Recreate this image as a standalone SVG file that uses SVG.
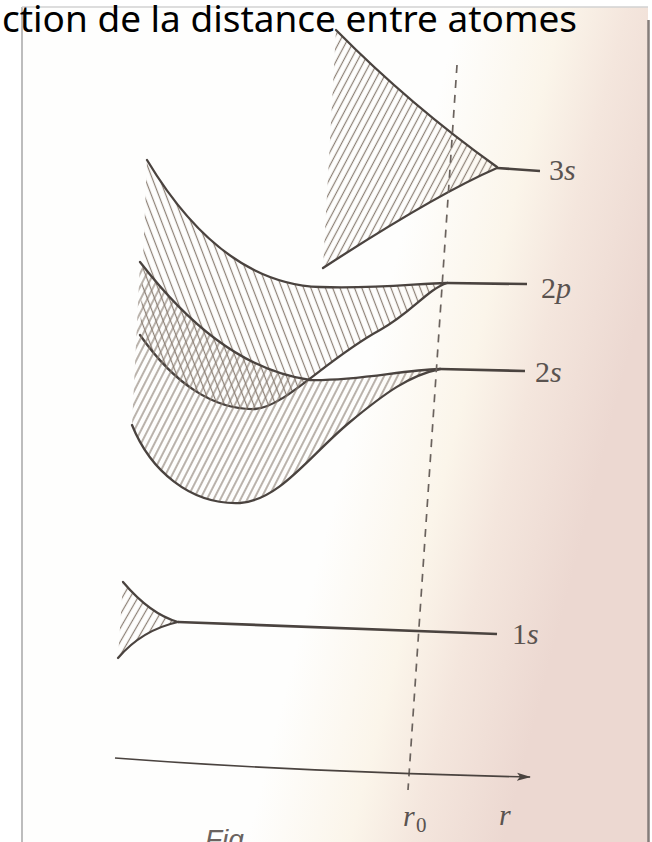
<svg xmlns="http://www.w3.org/2000/svg" width="652" height="842" viewBox="0 0 652 842">
<defs>
<style>
.edge{fill:none;stroke:#4a433f;stroke-width:2.3;stroke-linecap:round;stroke-linejoin:round}
.lvl{fill:none;stroke:#4a433f;stroke-width:2.7}
.h{stroke:#8c8075;stroke-width:1.2}
.lab{font-family:"Liberation Serif","DejaVu Serif",serif;font-size:30px;fill:#5a5350}
.it{font-style:italic}
.dash{fill:none;stroke:#6a625d;stroke-width:1.7;stroke-dasharray:8 7}
</style>
<linearGradient id="paper" gradientUnits="userSpaceOnUse" x1="353" y1="425" x2="595" y2="487">
<stop offset="0" stop-color="#fefefd"/>
<stop offset="0.4" stop-color="#fbf5ea"/>
<stop offset="0.65" stop-color="#f4e6dd"/>
<stop offset="1" stop-color="#ecd8d1"/>
</linearGradient>
<pattern id="hatchBack" patternUnits="userSpaceOnUse" width="6.8" height="20" patternTransform="rotate(-21)">
<line class="h" x1="3.4" y1="-2" x2="3.4" y2="22"/>
</pattern>
<pattern id="hatch2s" patternUnits="userSpaceOnUse" width="6" height="20" patternTransform="rotate(27)">
<line class="h" x1="3" y1="-2" x2="3" y2="22"/>
</pattern>
<pattern id="hatch3s" patternUnits="userSpaceOnUse" width="6.2" height="20" patternTransform="rotate(28)">
<line class="h" x1="3.1" y1="-2" x2="3.1" y2="22"/>
</pattern>
<pattern id="hatch1s" patternUnits="userSpaceOnUse" width="6.8" height="20" patternTransform="rotate(30)">
<line class="h" x1="3.4" y1="-2" x2="3.4" y2="22"/>
</pattern>
<marker id="arr" markerWidth="14" markerHeight="10" refX="13" refY="5" orient="auto" markerUnits="userSpaceOnUse">
<path d="M0,1 L14,5 L0,9 L3,5 Z" fill="#4a433f"/>
</marker>
</defs>

<g id="photo">
<rect x="0" y="0" width="652" height="842" fill="#ffffff"/>
<rect x="22" y="7" width="626" height="835" fill="url(#paper)"/>
<line x1="22" y1="7" x2="22" y2="842" stroke="#bdbdbd" stroke-width="2"/>
<line x1="22" y1="7" x2="648" y2="7" stroke="#d2d2d2" stroke-width="1.5"/>
<line x1="648.5" y1="20" x2="648.5" y2="842" stroke="#857d7a" stroke-width="2.5"/>
</g>

<g id="band-3s">
<path d="M336,30 Q410,105 497,167 L497,168 Q435,195 323,268 Z" fill="url(#hatch3s)"/>
<path class="edge" d="M336,30 Q410,105 497,167"/>
<path class="edge" d="M323,268 Q435,195 497,168"/>
<path class="lvl" d="M497,168 L540,171"/>
</g>

<g id="band-2p">
<path d="M147,160 C180,215 235,284 320,287 C380,289 420,283 447,283 C428,289 410,314 380,330 C325,360 285,407 255,409 C215,410 175,385 140,335 Z" fill="url(#hatchBack)"/>
<path class="edge" d="M147,160 C180,215 235,284 320,287 C380,289 420,283 447,283"/>
<path class="edge" d="M140,335 C175,385 215,410 255,409 C285,407 325,360 380,330 C410,314 428,289 447,283"/>
<path class="lvl" d="M447,283 L527,284"/>
</g>

<g id="band-2s">
<path d="M140,262 C185,320 240,370 310,380 C360,381 400,370 440,369 C410,375 385,393 350,422 C310,455 280,500 240,503 C190,505 150,470 132,425 Z" fill="url(#hatch2s)"/>
<path class="edge" d="M140,262 C185,320 240,370 310,380 C360,381 400,370 440,369"/>
<path class="edge" d="M132,425 C150,470 190,505 240,503 C280,500 310,455 350,422 C385,393 410,375 440,369"/>
<path class="lvl" d="M440,369 L525,371"/>
</g>

<g id="band-1s">
<path d="M123,582 Q150,614 178,622 Q142,630 118,658 Z" fill="url(#hatch1s)"/>
<path class="edge" d="M123,582 Q150,614 178,622"/>
<path class="edge" d="M118,658 Q142,630 178,622"/>
<path class="lvl" d="M178,622 L497,634" stroke-width="2.4"/>
</g>

<g id="connectors">
<path class="dash" d="M457,65 L408,790"/>
<path d="M115,758 Q300,772 530,777" fill="none" stroke="#4a433f" stroke-width="1.7" marker-end="url(#arr)"/>
</g>

<g id="labels">
<text class="lab" x="549" y="180">3<tspan class="it">s</tspan></text>
<text class="lab" x="541" y="298">2<tspan class="it">p</tspan></text>
<text class="lab" x="535" y="382">2<tspan class="it">s</tspan></text>
<text class="lab" x="512" y="644">1<tspan class="it">s</tspan></text>
<text class="lab it" x="403" y="826">r</text>
<text class="lab" x="416" y="832" style="font-size:21px">0</text>
<text class="lab it" x="499" y="825">r</text>
<text x="205" y="849" font-family="'Liberation Sans','DejaVu Sans',sans-serif" font-style="italic" font-size="28" fill="#6a6360">Fig</text>
</g>

<g id="title">
<text x="2" y="32" font-family="'Noto Sans','Open Sans',sans-serif" font-size="36" fill="#000000" textLength="575" lengthAdjust="spacingAndGlyphs">ction de la distance entre atomes</text>
</g>
</svg>
